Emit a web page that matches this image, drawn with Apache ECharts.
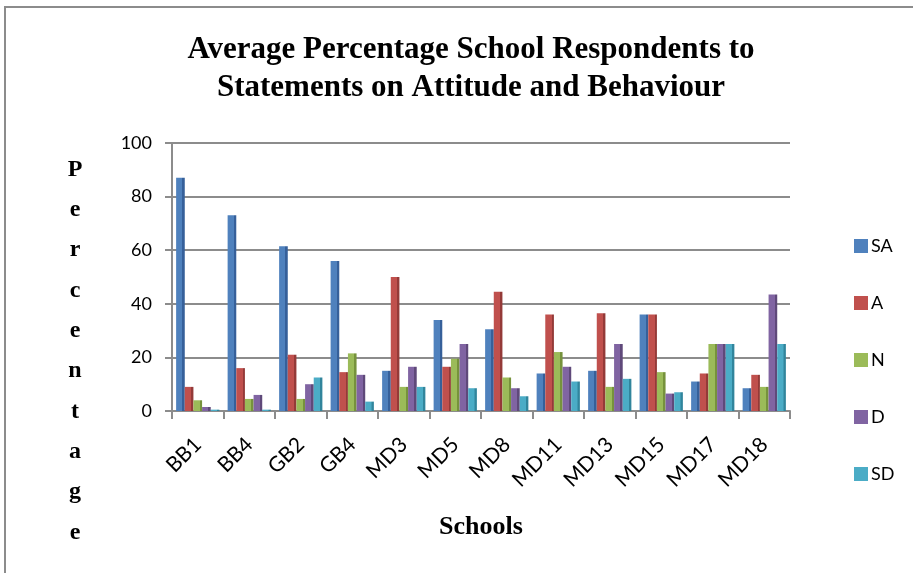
<!DOCTYPE html>
<html lang="en">
<head>
    <meta charset="UTF-8">
    <title>Average Percentage School Respondents</title>
    <script src="https://cdn.jsdelivr.net/npm/echarts@6.0.0/dist/echarts.min.js"></script>
    <style>
        html, body {
            margin: 0;
            padding: 0;
            background-color: #fff;
        }

        #chart {
            width: 913px;
            height: 573px;
        }
    </style>
</head>
<body>
    <div id="chart"></div>

    <script>
        // 数据
        const schools = ['BB1', 'BB4', 'GB2', 'GB4', 'MD3', 'MD5', 'MD8', 'MD11', 'MD13', 'MD15', 'MD17', 'MD18'];
        const seriesNames = ['SA', 'A', 'N', 'D', 'SD'];
        const saValues = [87, 73, 61.5, 56, 15, 34, 30.5, 14, 15, 36, 11, 8.5];
        const aValues = [9, 16, 21, 14.5, 50, 16.5, 44.5, 36, 36.5, 36, 14, 13.5];
        const nValues = [4, 4.5, 4.5, 21.5, 9, 19.5, 12.5, 22, 9, 14.5, 25, 9];
        const dValues = [1.5, 6, 10, 13.5, 16.5, 25, 8.5, 16.5, 25, 6.5, 25, 43.5];
        const sdValues = [0.5, 0.5, 12.5, 3.5, 9, 8.5, 5.5, 11, 12, 7, 25, 25];
        const yTicks = [0, 20, 40, 60, 80, 100];

        const colors = ['#4F81BD', '#C0504D', '#9BBB59', '#8064A2', '#4BACC6'];
        const darkColors = ['#36609A', '#943A38', '#76923C', '#5F497A', '#31859C'];
        const allValues = [saValues, aValues, nValues, dValues, sdValues];

        const chart = echarts.init(document.getElementById('chart'));

        // 柱子：右侧加深一条，模仿原图的立体效果
        const series = seriesNames.map((name, i) => ({
            name: name,
            type: 'bar',
            data: allValues[i],
            barGap: '0%',
            barCategoryGap: '16%',
            itemStyle: {
                color: new echarts.graphic.LinearGradient(0, 0, 1, 0, [
                    { offset: 0, color: colors[i] },
                    { offset: 0.72, color: colors[i] },
                    { offset: 0.73, color: darkColors[i] },
                    { offset: 1, color: darkColors[i] }
                ])
            }
        }));

        const option = {
            animation: false,
            color: colors,
            title: {
                text: 'Average Percentage School Respondents to\nStatements on Attitude and Behaviour',
                left: 466,
                top: 26,
                textAlign: 'center',
                textStyle: {
                    fontFamily: 'Liberation Serif',
                    fontWeight: 'bold',
                    fontSize: 31,
                    lineHeight: 38,
                    color: '#000'
                }
            },
            legend: {
                orient: 'vertical',
                left: 849,
                top: 232,
                itemWidth: 14,
                itemHeight: 14,
                itemGap: 39,
                icon: 'rect',
                data: seriesNames.map((name, i) => ({
                    name: name,
                    itemStyle: { color: colors[i] }
                })),
                textStyle: {
                    fontFamily: 'Lato',
                    fontSize: 18,
                    color: '#000',
                    padding: [0, 0, 0, -2]
                }
            },
            grid: {
                left: 172,
                right: 123,
                top: 143,
                height: 268,
                outerBoundsMode: 'none'
            },
            xAxis: {
                type: 'category',
                data: schools,
                name: 'Schools',
                nameLocation: 'middle',
                nameGap: 103,
                nameTextStyle: {
                    fontFamily: 'Liberation Serif',
                    fontWeight: 'bold',
                    fontSize: 26,
                    color: '#000'
                },
                axisLine: { lineStyle: { color: '#8c8c8c', width: 2 } },
                axisTick: { show: true, length: 8, lineStyle: { color: '#8c8c8c', width: 2 } },
                axisLabel: {
                    rotate: 45,
                    interval: 0,
                    margin: 30,
                    fontFamily: 'Lato',
                    fontSize: 21,
                    color: '#000'
                }
            },
            yAxis: {
                type: 'value',
                min: yTicks[0],
                max: yTicks[yTicks.length - 1],
                interval: 20,
                axisLine: { show: true, lineStyle: { color: '#8c8c8c', width: 2 } },
                axisTick: { show: true, length: 7, lineStyle: { color: '#8c8c8c', width: 2 } },
                splitLine: { lineStyle: { color: '#8c8c8c', width: 2 } },
                axisLabel: {
                    margin: 20,
                    fontFamily: 'Lato',
                    fontSize: 18,
                    color: '#000'
                }
            },
            graphic: [{
                type: 'rect',
                shape: { x: 5, y: 7, width: 1000, height: 1000 },
                style: { fill: 'none', stroke: '#8c8c8c', lineWidth: 2 },
                silent: true
            }, {
                // 纵轴标题，竖排字母
                type: 'text',
                x: 75,
                y: 351,
                style: {
                    text: 'P\ne\nr\nc\ne\nn\nt\na\ng\ne',
                    fontFamily: 'Liberation Serif',
                    fontWeight: 'bold',
                    fontSize: 24,
                    lineHeight: 40.3,
                    align: 'center',
                    verticalAlign: 'middle',
                    fill: '#000'
                },
                silent: true
            }],
            series: series
        };

        chart.setOption(option);
    </script>
</body>
</html>
